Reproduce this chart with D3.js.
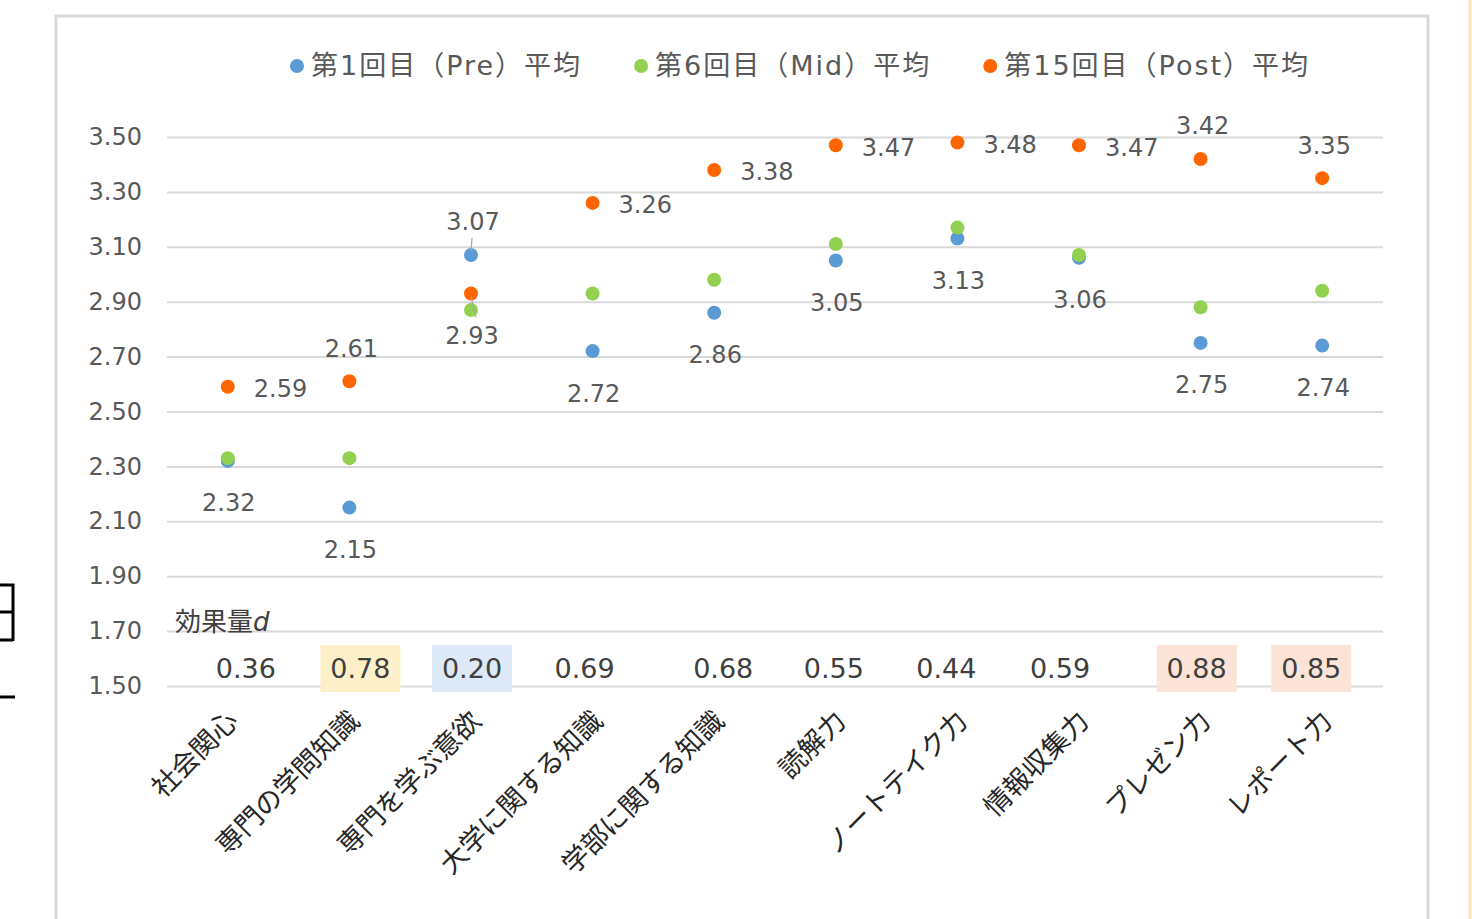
<!DOCTYPE html>
<html><head><meta charset="utf-8">
<script src="https://cdn.jsdelivr.net/npm/d3@7"></script>
<style>
html,body{margin:0;padding:0;background:#fff;}
svg{display:block;font-family:"DejaVu Sans","Noto Sans CJK JP",sans-serif;}
</style></head>
<body><svg id="c" width="1482" height="919"></svg>
<script>
// ---- data ----
const categories = ["社会関心","専門の学問知識","専門を学ぶ意欲","大学に関する知識","学部に関する知識","読解力","ノートテイク力","情報収集力","プレゼン力","レポート力"];
const preValues  = [2.32, 2.15, 3.07, 2.72, 2.86, 3.05, 3.13, 3.06, 2.75, 2.74];
const midValues  = [2.33, 2.33, 2.87, 2.93, 2.98, 3.11, 3.17, 3.07, 2.88, 2.94];
const postValues = [2.59, 2.61, 2.93, 3.26, 3.38, 3.47, 3.48, 3.47, 3.42, 3.35];
const effectSizes = [0.36, 0.78, 0.20, 0.69, 0.68, 0.55, 0.44, 0.59, 0.88, 0.85];
const effectHighlight = [null, "yellow", "blue", null, null, null, null, null, "peach", "peach"];
const yTicks = [1.50, 1.70, 1.90, 2.10, 2.30, 2.50, 2.70, 2.90, 3.10, 3.30, 3.50];
const seriesNames = ["第1回目（Pre）平均","第6回目（Mid）平均","第15回目（Post）平均"];
// label placement (layout, not data)
const prePlacement  = ["below","below","above","below","below","below","below","below","below","below"];
const postPlacement = ["right","above","below","right","right","right","right","right","above","above"];
const effectNudge = [18, 11, 1, -8, 9, -2, -11, -19, -4, -11];

// ---- styles ----
const colors = ["#5b9bd5", "#92d050", "#ff6600"];
const hlColors = {yellow:"#fdf0c9", blue:"#dde9f6", peach:"#fbe4d7"};
const textGray = "#595959";
const numFont = '"DejaVu Sans","Noto Sans CJK JP",sans-serif';

const svg = d3.select("#c");

// background artifacts (slide edges)
svg.append("line").attr("x1",1470).attr("x2",1470).attr("y1",0).attr("y2",919)
   .attr("stroke","#fde3b8").attr("stroke-width",3);
const art = svg.append("g").attr("stroke","#000").attr("stroke-width",3).attr("fill","none");
art.append("path").attr("d","M0,585 H13 V641 M0,612 H13 M0,640 H13");
art.append("line").attr("x1",0).attr("x2",15).attr("y1",697).attr("y2",697);

// chart frame
svg.append("rect").attr("x",56).attr("y",16).attr("width",1372).attr("height",930)
   .attr("fill","#fff").attr("stroke","#d9d9d9").attr("stroke-width",3);

// scales
const x = d3.scaleBand().domain(categories).range([167, 1383]);
const y = d3.scaleLinear().domain([1.5, 3.5]).range([686, 137]);
const cx = c => x(c) + x.bandwidth()/2;

// y axis + gridlines
const yAxis = svg.append("g").attr("transform","translate(167,0)")
  .call(d3.axisLeft(y).tickValues(yTicks).tickSize(-1216).tickPadding(25).tickFormat(d3.format(".2f")));
yAxis.select(".domain").remove();
yAxis.selectAll(".tick line").attr("stroke","#d9d9d9").attr("stroke-width",2);
yAxis.selectAll(".tick text").attr("fill",textGray).attr("font-size",24).attr("font-family",numFont);

// x axis
const xAxis = svg.append("g").attr("transform","translate(0,686)")
  .call(d3.axisBottom(x).tickSize(0));
xAxis.select(".domain").remove();
xAxis.selectAll(".tick text")
  .attr("fill","#262626").attr("font-size",27)
  .attr("font-family",'"Noto Sans CJK JP",sans-serif')
  .attr("text-anchor","end").attr("x",0).attr("y",0).attr("dy","0.35em")
  .attr("transform","translate(5,30) rotate(-45)");

// effect size row
svg.append("text").attr("x",175).attr("y",631).attr("fill","#404040").attr("font-size",26)
  .attr("font-family",'"Noto Sans CJK JP",sans-serif')
  .text("効果量").append("tspan").attr("font-style","italic")
  .attr("font-family",'"DejaVu Sans",sans-serif').text("d");
const eff = svg.append("g");
categories.forEach((c,i)=>{
  const ex = cx(c) + effectNudge[i];
  if (effectHighlight[i]) {
    eff.append("rect").attr("x",ex-40).attr("y",645).attr("width",80).attr("height",47)
      .attr("fill",hlColors[effectHighlight[i]]);
  }
  eff.append("text").attr("x",ex).attr("y",669).attr("dy","0.35em").attr("text-anchor","middle")
    .attr("fill","#404040").attr("font-size",27).attr("font-family",numFont)
    .text(d3.format(".2f")(effectSizes[i]));
});

// points
const series = [preValues, midValues, postValues];
series.forEach((vals,si)=>{
  svg.append("g").selectAll("circle").data(vals).join("circle")
    .attr("cx",(d,i)=>cx(categories[i])).attr("cy",d=>y(d)).attr("r",7).attr("fill",colors[si]);
});

// data labels
function placeLabel(place){
  if (place==="below") return {dx:1, dy:42, anchor:"middle"};
  if (place==="above") return {dx:2, dy:-33, anchor:"middle"};
  return {dx:26, dy:2, anchor:"start"};
}
const lab = svg.append("g").attr("font-size",24).attr("fill",textGray).attr("font-family",numFont);
const leader = svg.append("g").attr("stroke","#a6a6a6").attr("stroke-width",1.2);
function drawLabels(vals, placement, leaderIdx){
  vals.forEach((v,i)=>{
    const p = placeLabel(placement[i]);
    const px = cx(categories[i]), py = y(v);
    lab.append("text").attr("x",px+p.dx).attr("y",py+p.dy).attr("dy","0.35em")
      .attr("text-anchor",p.anchor).text(d3.format(".2f")(v));
    if (leaderIdx.includes(i)) {
      if (placement[i]==="above") leader.append("line").attr("x1",px+1).attr("y1",py-17).attr("x2",px).attr("y2",py-4);
      else leader.append("line").attr("x1",px).attr("y1",py+3).attr("x2",px+5).attr("y2",py+24);
    }
  });
}
drawLabels(preValues, prePlacement, [2]);
drawLabels(postValues, postPlacement, [2]);

// legend
const leg = svg.append("g");
let lx = 290;
seriesNames.forEach((n,i)=>{
  leg.append("circle").attr("cx",lx+7).attr("cy",66).attr("r",7).attr("fill",colors[i]);
  const t = leg.append("text").attr("x",lx+21).attr("y",66).attr("dy","0.35em")
    .attr("fill",textGray).attr("font-size",27).attr("letter-spacing",2)
    .attr("font-family",numFont).text(n);
  lx = lx + 21 + t.node().getComputedTextLength() + 52;
});
</script></body></html>
